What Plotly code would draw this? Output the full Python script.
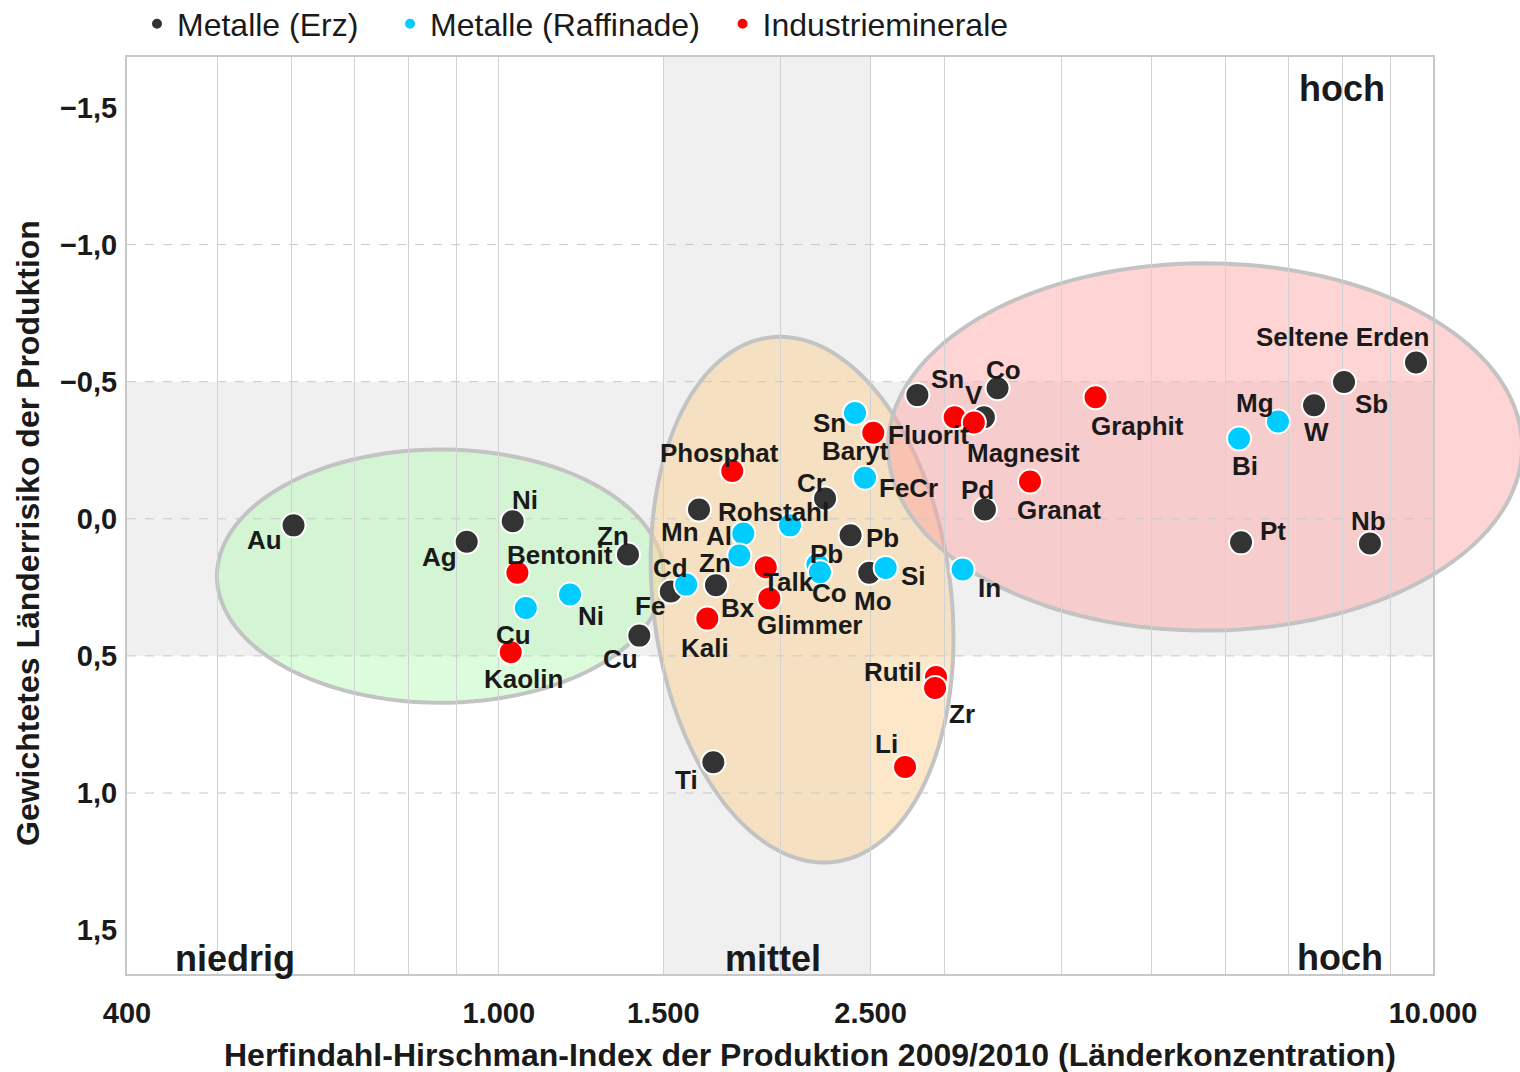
import numpy as np
import plotly.graph_objects as go

# ---------------- data ----------------
erz_names = ['Au', 'Ag', 'Ni', 'Zn', 'Cu', 'Fe', 'Mn', 'Bx', 'Ti', 'Cr', 'Pb', 'Mo', 'Sn', 'Co', 'V',
             'Pd', 'Pt', 'Nb', 'Sb', 'W', 'Seltene Erden']
erz_hhi = [603, 924, 1035, 1375, 1414, 1528, 1638, 1708, 1697, 2235, 2380, 2492, 2806, 3419, 3306,
           3314, 6231, 8561, 8031, 7459, 9590]
erz_risk = [0.024, 0.084, 0.009, 0.130, 0.426, 0.265, -0.034, 0.242, 0.888, -0.074, 0.060, 0.197, -0.451,
            -0.476, -0.370, -0.034, 0.086, 0.090, -0.499, -0.414, -0.570]

raf_names = ['Cu', 'Ni', 'Cd', 'Al', 'Zn', 'Rohstahl', 'Pb', 'Co', 'Sn', 'FeCr', 'Si', 'In', 'Bi', 'Mg']
raf_hhi = [1069, 1192, 1587, 1827, 1809, 2050, 2193, 2207, 2406, 2466, 2595, 3137, 6200, 6824]
raf_risk = [0.325, 0.276, 0.240, 0.054, 0.134, 0.024, 0.167, 0.195, -0.386, -0.150, 0.179, 0.185,
            -0.293, -0.355]

ind_names = ['Bentonit', 'Kaolin', 'Phosphat', 'Kali', 'Talk', 'Glimmer', 'Baryt', 'Fluorit', 'Magnesit',
             'Graphit', 'Granat', 'Rutil', 'Zr', 'Li']
ind_hhi = [1047, 1030, 1778, 1672, 1931, 1948, 2517, 3076, 3225, 4353, 3704, 2938, 2931, 2722]
ind_risk = [0.197, 0.487, -0.174, 0.364, 0.177, 0.291, -0.314, -0.370, -0.351, -0.443, -0.136, 0.577,
            0.617, 0.905]

series_names = ['Metalle (Erz)', 'Metalle (Raffinade)', 'Industrieminerale']

x_tick_vals = [400, 500, 600, 700, 800, 900, 1000, 1500, 2000, 2500, 3000, 4000, 5000, 6000, 7000,
               8000, 9000, 10000]
x_tick_text = ['400', '', '', '', '', '', '1.000', '1.500', '', '2.500', '', '', '', '', '', '', '',
               '10.000']
y_tick_vals = [-1.5, -1.0, -0.5, 0.0, 0.5, 1.0, 1.5]
y_tick_text = ['\u22121,5', '\u22121,0', '\u22120,5', '0,0', '0,5', '1,0', '1,5']
y_grid_vals = [-1.0, -0.5, 0.0, 0.5, 1.0]

x_title = 'Herfindahl-Hirschman-Index der Produktion 2009/2010 (Länderkonzentration)'
y_title = 'Gewichtetes Länderrisiko der Produktion'

# ---------------- label offsets (px, label centre relative to point) ----------------
erz_off = [(-29, 15), (-27, 15), (12, -21), (-15, -18), (-19, 23), (-21, 15), (-19, 23), (22, 23),
           (-27, 18), (-14, -16), (32, 3), (4, 28), (30, -16), (6, -18), (-10, -22), (-7, -19),
           (32, -11), (-1, -22), (27, 22), (2, 27), (-74, -25)]
raf_off = [(-12, 27), (21, 22), (-16, -17), (-24, 2), (-24, 7), (-17, -13), (9, -11), (10, 21),
           (-25, 10), (44, 10), (28, 8), (27, 18), (6, 28), (-23, -18)]
ind_off = [(43, -18), (13, 27), (-13, -18), (-2, 29), (23, 15), (41, 26), (-18, 18), (-26, 18),
           (50, 30), (42, 29), (29, 28), (-43, -5), (27, 26), (-19, -23)]

# ---------------- geometry ----------------
W, H = 1520, 1072
ML, MR, MT, MB = 127, 87, 57, 98
PW, PH = W - ML - MR, H - MT - MB
XLO, XHI = np.log10(400), 4.0
YTOP, YBOT = -1.684, 1.66


def px_(h):
    return (np.log10(h) - XLO) / (XHI - XLO)


def py_(r):
    return (YBOT - r) / (YBOT - YTOP)


def paper_x(pix):
    return (pix - ML) / PW


def paper_y(pix):
    return (H - MB - pix) / PH


PX_PER_DEC = PW / (XHI - XLO)
PX_PER_R = PH / (YBOT - YTOP)


def ellipse_path(c_hhi, c_risk, a_dec, b_risk, rot_deg=0.0, n=160):
    t = np.linspace(0, 2 * np.pi, n)
    u = a_dec * np.cos(t) * PX_PER_DEC
    v = b_risk * np.sin(t) * PX_PER_R
    th = np.radians(rot_deg)
    X = u * np.cos(th) - v * np.sin(th)
    Y = u * np.sin(th) + v * np.cos(th)
    xs = px_(c_hhi) + X / PW
    ys = py_(c_risk) - Y / PH
    pts = ['%.5f,%.5f' % (a, b) for a, b in zip(xs, ys)]
    return 'M ' + ' L '.join(pts) + ' Z'


shapes = []
GRAY = '#f0f0f0'
shapes.append(dict(type='rect', xref='paper', yref='paper', x0=0, x1=1, y0=py_(0.5), y1=py_(-0.5),
                   fillcolor=GRAY, line=dict(width=0), layer='below'))
shapes.append(dict(type='rect', xref='paper', yref='paper', x0=px_(1500), x1=px_(2500), y0=0, y1=1,
                   fillcolor=GRAY, line=dict(width=0), layer='below'))

ELL_LINE = dict(color='#c3c3c3', width=4)
shapes.append(dict(type='path', xref='paper', yref='paper',
                   path=ellipse_path(866, 0.209, 0.2392, 0.4617),
                   fillcolor='rgba(175,250,175,0.45)', line=ELL_LINE, layer='below'))
shapes.append(dict(type='path', xref='paper', yref='paper',
                   path=ellipse_path(2112, 0.295, 0.1595, 0.9635, -7),
                   fillcolor='rgba(250,210,145,0.5)', line=ELL_LINE, layer='below'))
shapes.append(dict(type='path', xref='paper', yref='paper',
                   path=ellipse_path(5702, -0.262, 0.3393, 0.6697),
                   fillcolor='rgba(255,160,160,0.45)', line=ELL_LINE, layer='below'))

for gv in y_grid_vals:
    shapes.append(dict(type='line', xref='paper', yref='paper', x0=0, x1=1, y0=py_(gv), y1=py_(gv),
                       line=dict(color='#c8c8c8', width=1, dash='dash'), layer='below'))

FONT = 'Liberation Sans, Arial, sans-serif'
TXT = '#1a1a1a'

fig = go.Figure()
colors = ['#333333', '#00ccff', '#ff0000']
legend_pad = ['\u00a0\u00a0\u00a0', '\u00a0\u00a0', '']
for name, pad, hhi, risk, col in zip(series_names, legend_pad, [erz_hhi, raf_hhi, ind_hhi],
                                     [erz_risk, raf_risk, ind_risk], colors):
    fig.add_trace(go.Scatter(x=hhi, y=risk, mode='markers', name=name + pad,
                             marker=dict(size=24, color=col, line=dict(color='white', width=2)),
                             hoverinfo='skip'))

annotations = []
for names, hhi, risk, offs in [(erz_names, erz_hhi, erz_risk, erz_off),
                               (raf_names, raf_hhi, raf_risk, raf_off),
                               (ind_names, ind_hhi, ind_risk, ind_off)]:
    for n, h, r, (dx, dy) in zip(names, hhi, risk, offs):
        annotations.append(dict(x=np.log10(h), y=r, xref='x', yref='y', text=n, showarrow=False,
                                xshift=dx, yshift=-dy,
                                font=dict(family=FONT, size=26, color=TXT, weight='bold')))

# zone labels
for txt, xp, yp in [('hoch', 1342, 88), ('niedrig', 235, 958), ('mittel', 773, 958), ('hoch', 1340, 957)]:
    annotations.append(dict(x=paper_x(xp), y=paper_y(yp), xref='paper', yref='paper', text=txt,
                            showarrow=False, xanchor='center', yanchor='middle',
                            font=dict(family=FONT, size=36, color=TXT, weight='bold')))

# axis titles
annotations.append(dict(x=paper_x(810), y=paper_y(1055), xref='paper', yref='paper', text=x_title,
                        showarrow=False, xanchor='center', yanchor='middle',
                        font=dict(family=FONT, size=32, color=TXT, weight='bold')))
annotations.append(dict(x=paper_x(28), y=paper_y(533), xref='paper', yref='paper', text=y_title,
                        showarrow=False, xanchor='center', yanchor='middle', textangle=-90,
                        font=dict(family=FONT, size=32, color=TXT, weight='bold')))

fig.update_layout(
    width=W, height=H,
    margin=dict(l=ML, r=MR, t=MT, b=MB, pad=0, autoexpand=False),
    paper_bgcolor='white', plot_bgcolor='white',
    shapes=shapes, annotations=annotations,
    showlegend=True,
    legend=dict(orientation='h', x=paper_x(137), xanchor='left', y=paper_y(24), yanchor='middle',
                font=dict(family=FONT, size=32, color=TXT), itemsizing='constant',
                bgcolor='rgba(0,0,0,0)'),
    xaxis=dict(type='log', range=[XLO, XHI], tickvals=x_tick_vals, ticktext=x_tick_text,
               showgrid=True, gridcolor='#d2d2d2', gridwidth=1, zeroline=False,
               showline=True, linecolor='#c8c8c8', linewidth=2, mirror=True, ticks='',
               ticklabelstandoff=12, automargin=False,
               tickfont=dict(family=FONT, size=29, color=TXT, weight='bold')),
    yaxis=dict(range=[YBOT, YTOP], tickvals=y_tick_vals, ticktext=y_tick_text, showgrid=False,
               zeroline=False, showline=True, linecolor='#c8c8c8', linewidth=2, mirror=True, ticks='',
               ticklabelstandoff=2, automargin=False,
               tickfont=dict(family=FONT, size=29, color=TXT, weight='bold')),
)

fig.write_html('out.html', config={'displayModeBar': False},
               post_script="document.body.style.margin='0';document.body.style.overflow='hidden';")
